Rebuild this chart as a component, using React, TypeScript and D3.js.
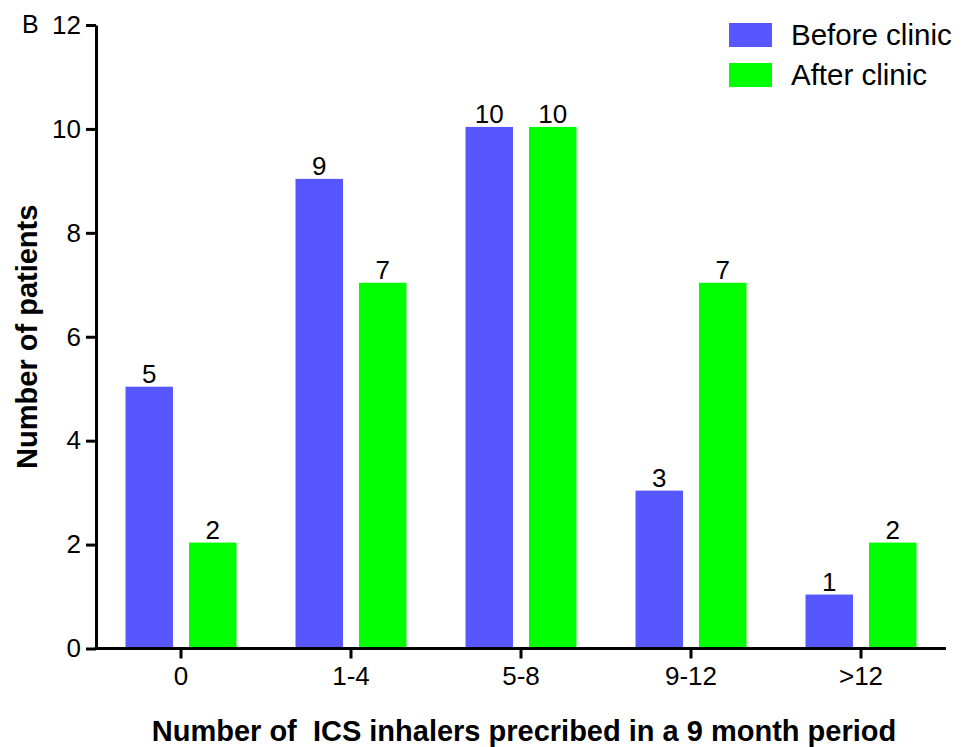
import React, { useEffect, useRef } from "react";
import * as d3 from "d3";

const categories = ["0", "1-4", "5-8", "9-12", ">12"];
const seriesNames = ["Before clinic", "After clinic"];
const beforeClinic = [5, 9, 10, 3, 1];
const afterClinic = [2, 7, 10, 7, 2];
const yTicks = [0, 2, 4, 6, 8, 10, 12];
const colors = ["#5757FF", "#00FF00"];

const W = 968;
const H = 747;
const FONT = "'Liberation Sans', Arial, Helvetica, sans-serif";

export default function App() {
  const ref = useRef<SVGSVGElement | null>(null);

  useEffect(() => {
    document.body.style.margin = "0";
    const svg = d3.select(ref.current);
    svg.selectAll("*").remove();

    const left = 96, right = 946, top = 25, bottom = 648.5;

    const x = d3.scaleBand<string>().domain(categories).range([left, right])
      .paddingInner(0.347).paddingOuter(0.1735);
    const xs = d3.scaleBand<string>().domain(seriesNames).range([0, x.bandwidth()])
      .paddingInner(0.252).paddingOuter(0);
    const y = d3.scaleLinear().domain([0, 12]).range([bottom, top]);

    const data = categories.map((c, i) => ({ cat: c, values: [beforeClinic[i], afterClinic[i]] }));

    // bars
    const groups = svg.append("g").selectAll("g").data(data).join("g")
      .attr("transform", (d) => `translate(${x(d.cat)},0)`);
    groups.selectAll("rect").data((d) => d.values.map((v, j) => ({ v, s: seriesNames[j], j })))
      .join("rect")
      .attr("x", (d) => xs(d.s)!)
      .attr("width", xs.bandwidth())
      .attr("y", (d) => y(d.v) - 2)
      .attr("height", (d) => y(0) - y(d.v) + 2)
      .attr("fill", (d) => colors[d.j]);
    groups.selectAll("text").data((d) => d.values.map((v, j) => ({ v, s: seriesNames[j] })))
      .join("text")
      .attr("x", (d) => xs(d.s)! + xs.bandwidth() / 2)
      .attr("y", (d) => y(d.v) - 6)
      .attr("text-anchor", "middle")
      .style("font-family", FONT)
      .style("font-size", "26px")
      .attr("fill", "#000")
      .text((d) => String(d.v));

    // y axis
    const yAxis = svg.append("g").attr("transform", `translate(${left},0)`)
      .call(d3.axisLeft(y).tickValues(yTicks).tickSize(10).tickPadding(5).tickSizeOuter(0));
    yAxis.select(".domain").attr("stroke-width", 3).attr("stroke", "#000");
    yAxis.selectAll(".tick line").attr("stroke-width", 3).attr("stroke", "#000");
    yAxis.selectAll(".tick text").style("font-family", FONT).style("font-size", "26px").attr("fill", "#000");

    // x axis
    const xAxis = svg.append("g").attr("transform", `translate(0,${bottom})`)
      .call(d3.axisBottom(x).tickSize(10).tickPadding(8).tickSizeOuter(0));
    xAxis.select(".domain").attr("stroke-width", 3).attr("stroke", "#000")
      .attr("d", `M${left - 1.5},0H${right}`);
    xAxis.selectAll(".tick line").attr("stroke-width", 3).attr("stroke", "#000");
    xAxis.selectAll(".tick text").style("font-family", FONT).style("font-size", "26px").attr("fill", "#000");

    // axis titles
    svg.append("text")
      .attr("transform", `translate(37,${(top + bottom) / 2}) rotate(-90)`)
      .attr("text-anchor", "middle")
      .style("font-family", FONT)
      .style("font-weight", "bold")
      .style("font-size", "29px")
      .text("Number of patients");
    svg.append("text")
      .attr("x", (left + right) / 2 + 3)
      .attr("y", 741)
      .attr("text-anchor", "middle")
      .style("font-family", FONT)
      .style("font-weight", "bold")
      .style("font-size", "29px")
      .style("white-space", "pre")
      .text("Number of  ICS inhalers precribed in a 9 month period");

    // panel letter
    svg.append("text")
      .attr("x", 22).attr("y", 33)
      .style("font-family", FONT).style("font-size", "25px")
      .text("B");

    // legend
    const lg = svg.append("g").selectAll("g").data(seriesNames).join("g")
      .attr("transform", (_d, i) => `translate(729,${23 + i * 40})`);
    lg.append("rect").attr("width", 43).attr("height", 24).attr("fill", (_d, i) => colors[i]);
    lg.append("text").attr("x", 62).attr("y", 22)
      .style("font-family", FONT).style("font-size", "29.5px").attr("fill", "#000")
      .text((d) => d);
  }, []);

  return (
    <svg ref={ref} width={W} height={H} style={{ position: "absolute", left: 0, top: 0, background: "#fff" }} />
  );
}
